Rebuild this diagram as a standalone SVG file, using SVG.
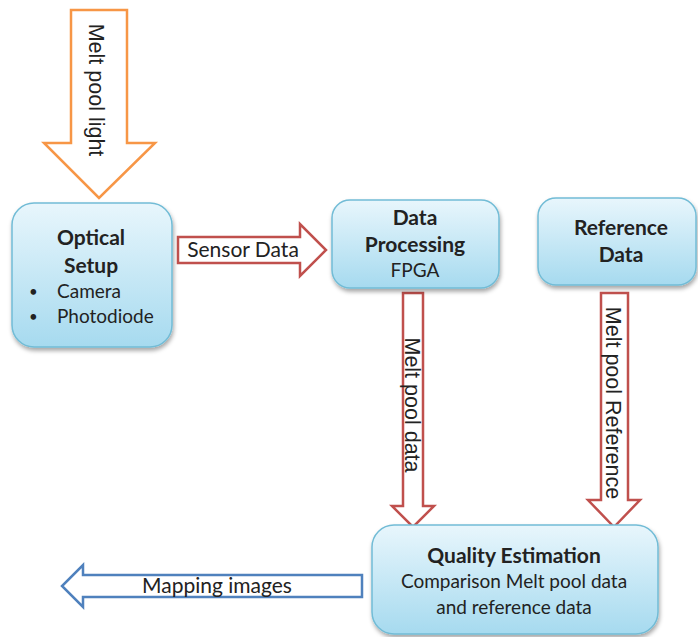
<svg xmlns="http://www.w3.org/2000/svg" width="698" height="637" viewBox="0 0 698 637">
  <defs>
    <linearGradient id="boxFill" x1="0" y1="0" x2="0" y2="1">
      <stop offset="0" stop-color="#e8f6fc"/>
      <stop offset="1" stop-color="#a6daef"/>
    </linearGradient>
    <filter id="shadow" x="-10%" y="-10%" width="125%" height="130%">
      <feDropShadow dx="1" dy="3" stdDeviation="2" flood-color="#000" flood-opacity="0.35"/>
    </filter>
  </defs>
  <style>
    .box { fill: url(#boxFill); stroke: #72bcd6; stroke-width: 1.5; filter: url(#shadow); }
    .title { font-family: Lato, "Open Sans", sans-serif; font-weight: bold; font-size: 21px; fill: #222; text-anchor: middle; }
    .body { font-family: Lato, "Open Sans", sans-serif; font-size: 19px; fill: #222; }
    .bullet { font-family: Lato, "Open Sans", sans-serif; font-size: 15px; fill: #222; }
    .mid { text-anchor: middle; }
    .flow { fill: #fff; stroke-width: 2.5; stroke-linejoin: miter; }
    .orange { stroke: #f79646; }
    .red { stroke: #c0504d; }
    .blue { stroke: #4f81bd; }
    .vlabel { font-family: "Liberation Sans", Arial, sans-serif; font-size: 21.5px; fill: #222; text-anchor: middle; dominant-baseline: central; }
    .hlabel { font-family: Lato, "Open Sans", sans-serif; font-size: 21px; fill: #222; text-anchor: middle; }
  </style>

  <!-- flow arrows -->
  <g id="connectors">
    <g id="melt-pool-light">
      <polygon class="flow orange" points="71,10 127,10 127,143 155,143 99,198 44,143 71,143"/>
      <text class="vlabel" transform="translate(96,90) rotate(90)">Melt pool light</text>
    </g>
    <g id="sensor-data">
      <polygon class="flow red" points="178,237 300,237 300,224 326,250 300,276 300,263 178,263"/>
      <text class="hlabel" x="243" y="257">Sensor Data</text>
    </g>
    <g id="melt-pool-data">
      <polygon class="flow red" points="403,293 423,293 423,506 434,506 413,527 392,506 403,506"/>
      <text class="vlabel" transform="translate(412,405) rotate(90)">Melt pool data</text>
    </g>
    <g id="melt-pool-reference">
      <polygon class="flow red" points="601,293 628,293 628,500 640,500 614,527 588,500 601,500"/>
      <text class="vlabel" transform="translate(613,403) rotate(90)">Melt pool Reference</text>
    </g>
    <g id="mapping-images">
      <polygon class="flow blue" points="362,575 362,597 83,597 83,607 62,586 83,565 83,575"/>
      <text class="hlabel" x="217" y="593">Mapping images</text>
    </g>
  </g>

  <!-- process nodes -->
  <g id="optical-setup">
    <rect class="box" x="12" y="203" width="160" height="144" rx="22"/>
    <text class="title" x="91" y="245">Optical</text>
    <text class="title" x="91" y="273">Setup</text>
    <text class="bullet" x="29" y="297">•</text>
    <text class="body" x="57" y="298">Camera</text>
    <text class="bullet" x="29" y="322">•</text>
    <text class="body" x="57" y="323">Photodiode</text>
  </g>

  <g id="data-processing">
    <rect class="box" x="332" y="200" width="167" height="88" rx="18"/>
    <text class="title" x="415" y="225">Data</text>
    <text class="title" x="415" y="252">Processing</text>
    <text class="body mid" x="415" y="277">FPGA</text>
  </g>

  <g id="reference-data">
    <rect class="box" x="538" y="198" width="158" height="87" rx="18"/>
    <text class="title" x="621" y="235">Reference</text>
    <text class="title" x="621" y="262">Data</text>
  </g>

  <g id="quality-estimation">
    <rect class="box" x="372" y="525" width="286" height="109" rx="22"/>
    <text class="title" x="514" y="563">Quality Estimation</text>
    <text class="body mid" x="514" y="588">Comparison Melt pool data</text>
    <text class="body mid" x="514" y="614">and reference data</text>
  </g>
</svg>
